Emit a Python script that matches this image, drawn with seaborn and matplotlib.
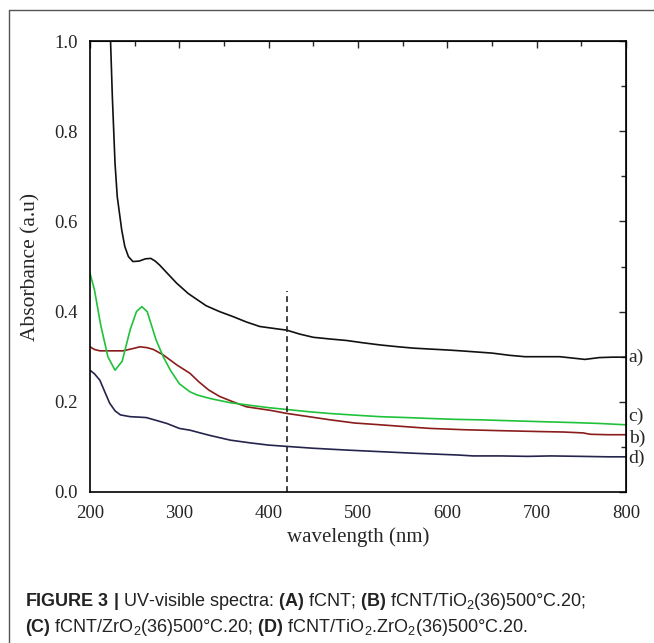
import numpy as np
import pandas as pd
import matplotlib
matplotlib.use('Agg')
import matplotlib.pyplot as plt
from matplotlib.lines import Line2D
import seaborn as sns

# spectra (wavelength nm, absorbance a.u)
wl_a = [223, 225, 228, 230.5, 235.5, 239, 243, 248, 255, 262, 268, 273, 278, 287, 297, 310, 330, 345, 360, 375, 390,
        412, 420, 435, 450, 470, 487, 505, 525, 545, 562, 580, 599, 615, 629, 650, 670, 687, 705, 726, 740, 754, 770, 785, 800]
abs_a = [1.00, 0.877, 0.729, 0.655, 0.581, 0.544, 0.522, 0.511, 0.512, 0.517, 0.518, 0.512, 0.503, 0.484, 0.463, 0.44, 0.413, 0.40, 0.389, 0.377, 0.367,
         0.361, 0.359, 0.35, 0.343, 0.339, 0.336, 0.331, 0.326, 0.322, 0.319, 0.317, 0.315, 0.313, 0.311, 0.308, 0.303, 0.300, 0.300, 0.300, 0.297, 0.294, 0.298, 0.299, 0.299]

wl_b = [200, 205, 211, 225, 237, 248, 256, 264, 271, 282, 297, 312, 322, 333, 345, 360, 375, 402, 421, 445, 469, 496,
        525, 566, 581, 620, 659, 704, 730, 752, 760, 780, 800]
abs_b = [0.322, 0.316, 0.313, 0.313, 0.313, 0.318, 0.322, 0.320, 0.316, 0.304, 0.282, 0.263, 0.244, 0.226, 0.212, 0.200, 0.189, 0.181, 0.174, 0.167, 0.160, 0.153,
         0.149, 0.143, 0.141, 0.138, 0.136, 0.134, 0.133, 0.131, 0.128, 0.127, 0.127]

wl_c = [200, 205, 212, 220, 228, 236, 245, 252, 258, 264, 274, 282, 290, 300, 312, 320, 335, 357, 380, 400, 420, 445, 469,
        500, 525, 555, 581, 610, 637, 670, 704, 740, 770, 800]
abs_c = [0.485, 0.448, 0.37, 0.30, 0.270, 0.29, 0.36, 0.40, 0.411, 0.40, 0.337, 0.30, 0.270, 0.240, 0.222, 0.215, 0.207, 0.198, 0.192, 0.187, 0.183, 0.178, 0.174,
         0.170, 0.167, 0.165, 0.163, 0.161, 0.160, 0.158, 0.156, 0.154, 0.152, 0.149]

wl_d = [200, 205, 211, 217, 222, 228, 234, 245, 255, 263, 272, 286, 300, 312, 333, 357, 379, 400, 421, 450, 487, 519, 562, 612,
        629, 660, 690, 716, 750, 780, 800]
abs_d = [0.270, 0.262, 0.248, 0.22, 0.197, 0.18, 0.171, 0.167, 0.166, 0.165, 0.160, 0.152, 0.141, 0.137, 0.126, 0.115, 0.109, 0.104, 0.101, 0.097, 0.093, 0.090, 0.086, 0.082,
         0.080, 0.080, 0.079, 0.080, 0.079, 0.078, 0.078]

curve_names = ['a)', 'b)', 'c)', 'd)']
curve_colors = ['#111111', '#8b1c1c', '#1fc23a', '#24244c']
label_y = [0.298, 0.119, 0.167, 0.075]
marker_wl = 420
marker_top = 0.445

caption1 = r'$\bf{FIGURE\ 3\ |}$ UV-visible spectra: $\bf{(A)}$ fCNT; $\bf{(B)}$ fCNT/TiO$_2$(36)500°C.20;'
caption2 = r'$\bf{(C)}$ fCNT/ZrO$_2$(36)500°C.20; $\bf{(D)}$ fCNT/TiO$_2$.ZrO$_2$(36)500°C.20.'

sns.set_style('white')
plt.rcParams['font.family'] = ['Liberation Serif', 'DejaVu Serif']
plt.rcParams['mathtext.fontset'] = 'custom'
plt.rcParams['mathtext.rm'] = 'Liberation Sans'
plt.rcParams['mathtext.it'] = 'Liberation Sans'
plt.rcParams['mathtext.bf'] = 'Liberation Sans:bold'

fig = plt.figure(figsize=(6.54, 6.43), dpi=100)
ax = fig.add_axes([90 / 654, 1 - 492 / 643, 536 / 654, 451 / 643])

series = [(wl_a, abs_a), (wl_b, abs_b), (wl_c, abs_c), (wl_d, abs_d)]
for (wl, ab), name, col in zip(series, curve_names, curve_colors):
    df = pd.DataFrame({'wavelength': wl, 'absorbance': ab})
    sns.lineplot(data=df, x='wavelength', y='absorbance', color=col, lw=1.2, ax=ax, sort=False)

ax.plot([marker_wl, marker_wl], [0, marker_top], ls=(0, (3.5, 2.5)), color='#222222', lw=1.2)

for name, y in zip(curve_names, label_y):
    ax.text(803, y, name, fontsize=14, va='center', ha='left', clip_on=False)

ax.set_xlim(200, 800)
ax.set_ylim(0, 1.0)
ax.set_xticks(np.arange(200, 801, 100))
ax.set_xticks(np.arange(200, 801, 50), minor=True)
ax.set_yticks(np.arange(0, 1.01, 0.2))
ax.set_yticks(np.arange(0, 1.01, 0.1), minor=True)
ax.set_yticklabels(['0.0', '0.2', '0.4', '0.6', '0.8', '1.0'])
ax.tick_params(which='both', direction='out', width=1, labelsize=13.5, color='black', pad=4)
ax.tick_params(which='major', length=5)
ax.tick_params(which='minor', length=3.5)
for s in ax.spines.values():
    s.set_linewidth(1.2)
    s.set_color('black')

top = ax.secondary_xaxis('top')
top.set_xticks(np.arange(200, 801, 100))
top.set_xticks(np.arange(200, 801, 50), minor=True)
top.tick_params(which='both', direction='in', labeltop=False, width=1)
top.tick_params(which='major', length=5)
top.tick_params(which='minor', length=3.5)
right = ax.secondary_yaxis('right')
right.set_yticks(np.arange(0, 1.01, 0.2))
right.set_yticks(np.arange(0, 1.01, 0.1), minor=True)
right.tick_params(which='both', direction='in', labelright=False, width=1)
right.tick_params(which='major', length=5)
right.tick_params(which='minor', length=3.5)

ax.set_xlabel('wavelength (nm)', fontsize=15, labelpad=4)
ax.set_ylabel('Absorbance (a.u)', fontsize=15.5, labelpad=10)

# outer frame of the figure panel
fig.add_artist(Line2D([9 / 654, 9 / 654], [0, 1 - 10 / 643], color='#555555', lw=1))
fig.add_artist(Line2D([9 / 654, 1], [1 - 10 / 643, 1 - 10 / 643], color='#555555', lw=1))

fig.text(25 / 654, 1 - 602 / 643, caption1, fontsize=13, family='Liberation Sans', va='center', color='#222222')
fig.text(25 / 654, 1 - 627 / 643, caption2, fontsize=13, family='Liberation Sans', va='center', color='#222222')

fig.savefig('out.png', dpi=100)
